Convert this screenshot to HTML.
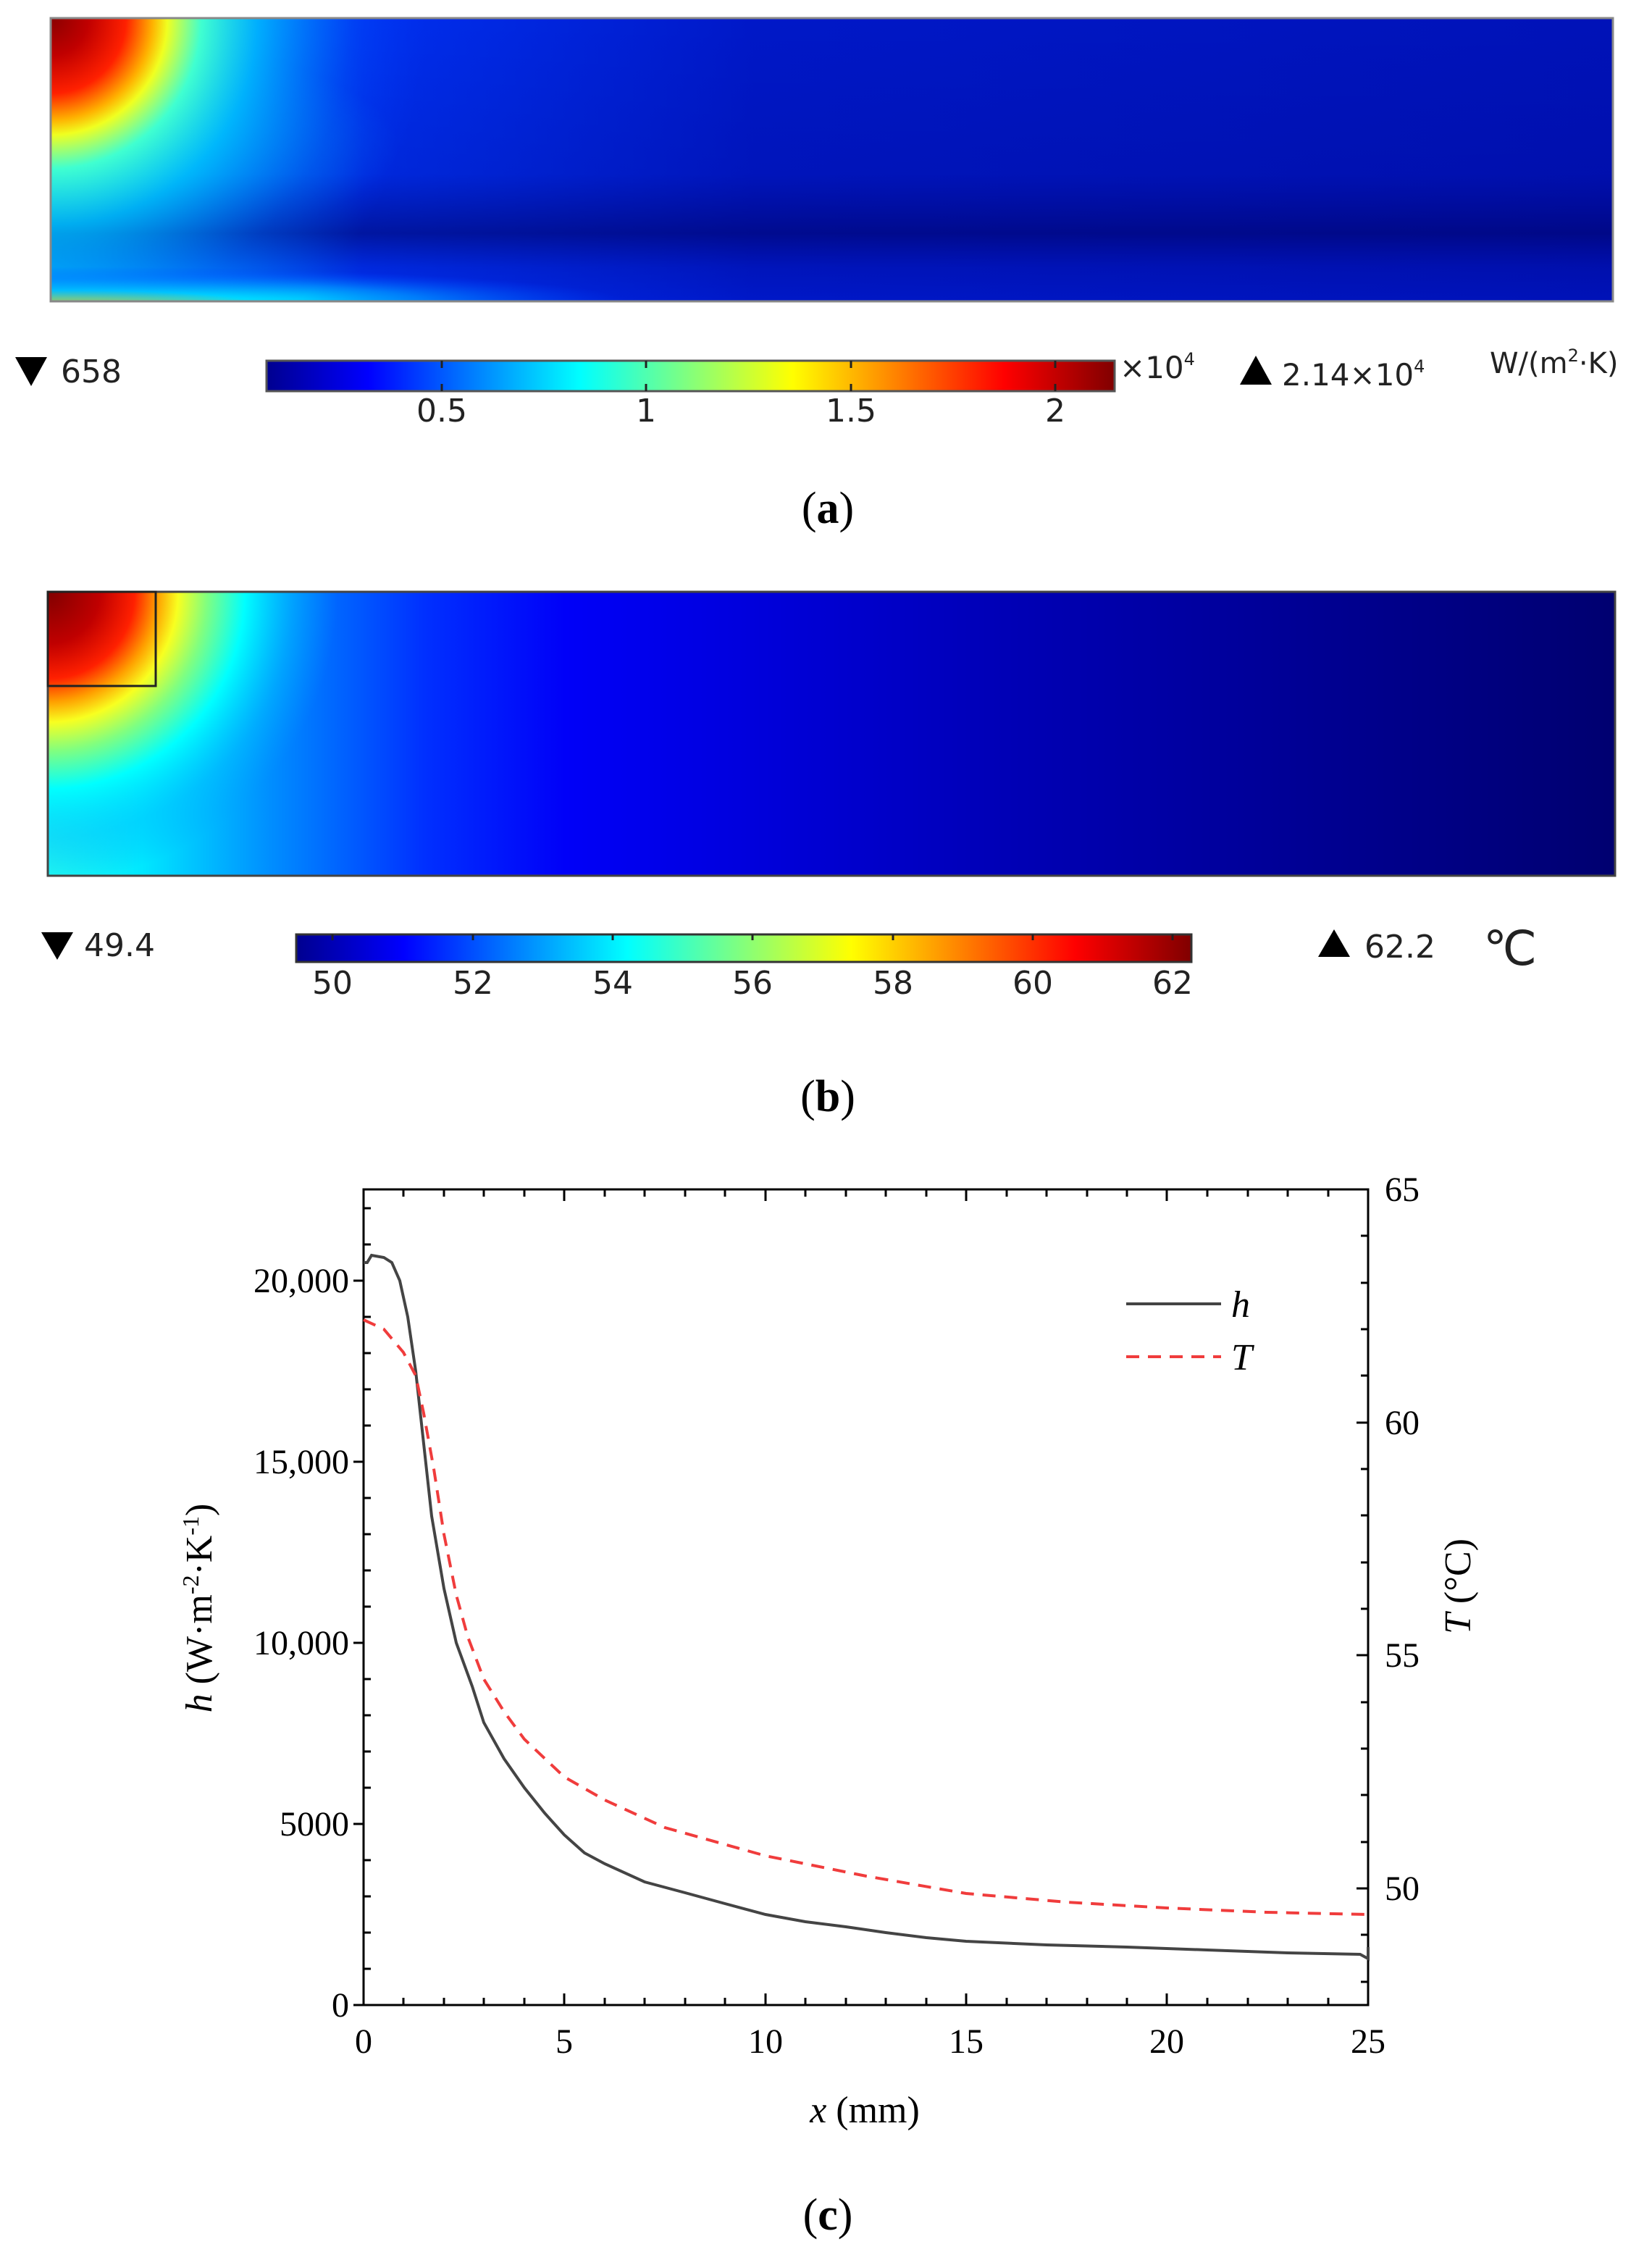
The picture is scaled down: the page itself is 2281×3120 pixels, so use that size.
<!DOCTYPE html>
<html><head><meta charset="utf-8"><style>
html,body{margin:0;padding:0;background:#fff;}
svg{display:block;}
.s{font-family:"DejaVu Sans","Liberation Sans",sans-serif;}
.t{font-family:"Liberation Serif",serif;}
</style></head><body>
<svg width="2281" height="3120" viewBox="0 0 2281 3120" xmlns="http://www.w3.org/2000/svg">
<defs>
<linearGradient id="jet" x1="0" x2="1" y1="0" y2="0">
<stop offset="0" stop-color="#00008f"/><stop offset="0.12" stop-color="#0000ff"/><stop offset="0.37" stop-color="#00ffff"/><stop offset="0.62" stop-color="#ffff00"/><stop offset="0.87" stop-color="#ff0000"/><stop offset="1" stop-color="#800000"/>
</linearGradient>
<linearGradient id="aBase" x1="70" x2="2227" y1="0" y2="0" gradientUnits="userSpaceOnUse">
<stop offset="0" stop-color="#00c8ff"/><stop offset="0.1" stop-color="#0080ff"/><stop offset="0.2" stop-color="#0030f0"/><stop offset="0.45" stop-color="#0018c8"/><stop offset="1" stop-color="#0012b8"/>
</linearGradient>
<linearGradient id="aBand" x1="0" x2="0" y1="25" y2="416" gradientUnits="userSpaceOnUse">
<stop offset="0" stop-color="#000070" stop-opacity="0"/><stop offset="0.55" stop-color="#000070" stop-opacity="0.15"/><stop offset="0.76" stop-color="#000060" stop-opacity="0.55"/><stop offset="0.88" stop-color="#000070" stop-opacity="0.15"/><stop offset="1" stop-color="#000070" stop-opacity="0"/>
</linearGradient>
<radialGradient id="aMid" cx="0" cy="0" r="1" gradientUnits="userSpaceOnUse" gradientTransform="translate(70 200) scale(480 150)">
<stop offset="0" stop-color="#00f0ff" stop-opacity="0.9"/><stop offset="0.5" stop-color="#00c0ff" stop-opacity="0.6"/><stop offset="1" stop-color="#0080ff" stop-opacity="0"/>
</radialGradient>
<radialGradient id="aHot" cx="70" cy="25" r="520" gradientUnits="userSpaceOnUse">
<stop offset="0" stop-color="#8a0000"/><stop offset="0.1" stop-color="#c00000"/><stop offset="0.2" stop-color="#ff2000"/><stop offset="0.27" stop-color="#ffb000"/><stop offset="0.31" stop-color="#f0ff20"/><stop offset="0.4" stop-color="#40ffd0"/><stop offset="0.55" stop-color="#00c0ff" stop-opacity="0.8"/><stop offset="0.8" stop-color="#0060ff" stop-opacity="0.3"/><stop offset="1" stop-color="#0040ff" stop-opacity="0"/>
</radialGradient>
<radialGradient id="aBot" cx="0" cy="0" r="1" gradientUnits="userSpaceOnUse" gradientTransform="translate(70 418) scale(800 50)">
<stop offset="0" stop-color="#ffff00"/><stop offset="0.15" stop-color="#a0ff60"/><stop offset="0.35" stop-color="#00f0ff"/><stop offset="0.65" stop-color="#0090ff" stop-opacity="0.8"/><stop offset="1" stop-color="#0040ff" stop-opacity="0"/>
</radialGradient>
<linearGradient id="bBase" x1="66" x2="2230" y1="0" y2="0" gradientUnits="userSpaceOnUse">
<stop offset="0" stop-color="#20f8f0"/><stop offset="0.06" stop-color="#00e8ff"/><stop offset="0.14" stop-color="#0090ff"/><stop offset="0.24" stop-color="#0030ff"/><stop offset="0.33" stop-color="#0000f8"/><stop offset="0.6" stop-color="#0000b8"/><stop offset="1" stop-color="#000070"/>
</linearGradient>
<radialGradient id="bHot" cx="66" cy="817" r="400" gradientUnits="userSpaceOnUse">
<stop offset="0" stop-color="#800000"/><stop offset="0.18" stop-color="#c00000"/><stop offset="0.3" stop-color="#ff2000"/><stop offset="0.38" stop-color="#ffa000"/><stop offset="0.45" stop-color="#f8ff20"/><stop offset="0.55" stop-color="#80ff80"/><stop offset="0.68" stop-color="#00ffff"/><stop offset="0.85" stop-color="#00c0ff" stop-opacity="0.5"/><stop offset="1" stop-color="#00a0ff" stop-opacity="0"/>
</radialGradient>
</defs>

<!-- Panel a -->
<rect x="70" y="25" width="2157" height="391" fill="url(#aBase)"/>
<rect x="70" y="25" width="2157" height="391" fill="url(#aMid)"/>
<rect x="70" y="25" width="2157" height="391" fill="url(#aBand)"/>
<rect x="70" y="25" width="2157" height="391" fill="url(#aBot)"/>
<rect x="70" y="25" width="2157" height="391" fill="url(#aHot)"/>
<rect x="70" y="25" width="2157" height="391" fill="none" stroke="#888" stroke-width="3"/>

<polygon points="21,493 65,493 43,533" fill="#000"/>
<text x="84" y="528" class="s" font-size="44" fill="#222">658</text>
<rect x="368" y="498" width="1171" height="42" fill="url(#jet)" stroke="#555" stroke-width="3"/>
<g stroke="#222" stroke-width="3"><line x1="610" y1="498" x2="610" y2="508"/><line x1="610" y1="530" x2="610" y2="540"/><line x1="892" y1="498" x2="892" y2="508"/><line x1="892" y1="530" x2="892" y2="540"/><line x1="1175" y1="498" x2="1175" y2="508"/><line x1="1175" y1="530" x2="1175" y2="540"/><line x1="1457" y1="498" x2="1457" y2="508"/><line x1="1457" y1="530" x2="1457" y2="540"/></g>
<g class="s" font-size="44" fill="#222" text-anchor="middle">
<text x="610" y="582">0.5</text><text x="892" y="582">1</text><text x="1175" y="582">1.5</text><text x="1457" y="582">2</text></g>
<text x="1546" y="522" class="s" font-size="42" fill="#222">×10<tspan font-size="24" dy="-18">4</tspan></text>
<polygon points="1712,531 1756,531 1734,491" fill="#000"/>
<text x="1770" y="532" class="s" font-size="42" fill="#222">2.14×10<tspan font-size="24" dy="-18">4</tspan></text>
<text x="2057" y="515" class="s" font-size="40" fill="#222">W/(m<tspan font-size="24" dy="-16">2</tspan><tspan dy="16">·K)</tspan></text>
<text x="1143" y="722" class="t" font-size="62" fill="#000" text-anchor="middle">(<tspan font-weight="bold">a</tspan>)</text>

<!-- Panel b -->
<rect x="66" y="817" width="2164" height="392" fill="url(#bBase)"/>
<rect x="66" y="817" width="2164" height="392" fill="url(#bHot)"/>
<rect x="66" y="817" width="2164" height="392" fill="none" stroke="#444" stroke-width="3"/>
<rect x="66" y="817" width="149" height="130" fill="none" stroke="#222" stroke-width="3"/>

<polygon points="57,1287 101,1287 79,1325" fill="#000"/>
<text x="116" y="1320" class="s" font-size="44" fill="#222">49.4</text>
<rect x="409" y="1290" width="1236" height="38" fill="url(#jet)" stroke="#333" stroke-width="3"/>
<g stroke="#222" stroke-width="3">
<line x1="459" y1="1290" x2="459" y2="1298"/><line x1="653" y1="1290" x2="653" y2="1298"/><line x1="846" y1="1290" x2="846" y2="1298"/><line x1="1039" y1="1290" x2="1039" y2="1298"/><line x1="1233" y1="1290" x2="1233" y2="1298"/><line x1="1426" y1="1290" x2="1426" y2="1298"/><line x1="1619" y1="1290" x2="1619" y2="1298"/></g>
<g class="s" font-size="44" fill="#222" text-anchor="middle">
<text x="459" y="1372">50</text><text x="653" y="1372">52</text><text x="846" y="1372">54</text><text x="1039" y="1372">56</text><text x="1233" y="1372">58</text><text x="1426" y="1372">60</text><text x="1619" y="1372">62</text></g>
<polygon points="1820,1321 1864,1321 1842,1283" fill="#000"/>
<text x="1884" y="1322" class="s" font-size="44" fill="#222">62.2</text>
<text x="2048" y="1332" class="t" font-size="66" fill="#222">℃</text>
<text x="1143" y="1534" class="t" font-size="62" fill="#000" text-anchor="middle">(<tspan font-weight="bold">b</tspan>)</text>

<!-- Panel c -->
<g stroke="#000" stroke-width="3" fill="none">
<rect x="502" y="1642" width="1387" height="1126"/>
<path d="M502 2768v-16M779 2768v-16M1057 2768v-16M1334 2768v-16M1611 2768v-16M1889 2768v-16
M502 1642v16M779 1642v16M1057 1642v16M1334 1642v16M1611 1642v16
M557 2768v-10M613 2768v-10M668 2768v-10M724 2768v-10M835 2768v-10M890 2768v-10M946 2768v-10M1001 2768v-10M1112 2768v-10M1168 2768v-10M1223 2768v-10M1279 2768v-10M1390 2768v-10M1445 2768v-10M1501 2768v-10M1556 2768v-10M1667 2768v-10M1723 2768v-10M1778 2768v-10M1834 2768v-10
M557 1642v10M613 1642v10M668 1642v10M724 1642v10M835 1642v10M890 1642v10M946 1642v10M1001 1642v10M1112 1642v10M1168 1642v10M1223 1642v10M1279 1642v10M1390 1642v10M1445 1642v10M1501 1642v10M1556 1642v10M1667 1642v10M1723 1642v10M1778 1642v10M1834 1642v10"/>
<path d="M502 2768h-14M502 2518h-14M502 2268h-14M502 2018h-14M502 1768h-14
M502 2718h10M502 2668h10M502 2618h10M502 2568h10M502 2468h10M502 2418h10M502 2368h10M502 2318h10M502 2218h10M502 2168h10M502 2118h10M502 2068h10M502 1968h10M502 1918h10M502 1868h10M502 1818h10M502 1718h10M502 1668h10"/>
<path d="M1889 1642h-16M1889 1964h-16M1889 2285h-16M1889 2607h-16
M1889 1706h-10M1889 1771h-10M1889 1835h-10M1889 1899h-10M1889 2028h-10M1889 2092h-10M1889 2157h-10M1889 2221h-10M1889 2350h-10M1889 2414h-10M1889 2478h-10M1889 2543h-10M1889 2671h-10M1889 2736h-10"/>
</g>
<g class="t" font-size="48" fill="#000" text-anchor="middle">
<text x="502" y="2834">0</text><text x="779" y="2834">5</text><text x="1057" y="2834">10</text><text x="1334" y="2834">15</text><text x="1611" y="2834">20</text><text x="1889" y="2834">25</text></g>
<g class="t" font-size="48" fill="#000" text-anchor="end">
<text x="482" y="2784">0</text><text x="482" y="2534">5000</text><text x="482" y="2284">10,000</text><text x="482" y="2034">15,000</text><text x="482" y="1784">20,000</text></g>
<g class="t" font-size="48" fill="#000">
<text x="1912" y="1658">65</text><text x="1912" y="1980">60</text><text x="1912" y="2301">55</text><text x="1912" y="2623">50</text></g>
<text x="1194" y="2930" class="t" font-size="52" fill="#000" text-anchor="middle"><tspan font-style="italic">x</tspan> (mm)</text>
<text transform="translate(292 2220) rotate(-90)" class="t" font-size="52" fill="#000" text-anchor="middle"><tspan font-style="italic">h</tspan> (W·m<tspan font-size="32" dy="-18">-2</tspan><tspan dy="18">·K</tspan><tspan font-size="32" dy="-18">-1</tspan><tspan dy="18">)</tspan></text>
<text transform="translate(2030 2190) rotate(-90)" class="t" font-size="52" fill="#000" text-anchor="middle"><tspan font-style="italic">T</tspan>  (°C)</text>

<polyline fill="none" stroke="#444" stroke-width="4" points="502,1743 507,1743 513,1733 530,1736 541,1743 552,1768 563,1818 574,1893 585,1993 596,2093 613,2193 630,2268 652,2328 668,2378 696,2428 724,2468 752,2503 779,2533 807,2558 835,2573 890,2598 946,2613 1001,2628 1057,2643 1112,2653 1168,2660 1223,2668 1279,2675 1334,2680 1445,2685 1556,2688 1667,2692 1778,2696 1878,2698 1889,2704 1889,2688"/>
<polyline fill="none" stroke="#f03c3c" stroke-width="4" stroke-dasharray="18,12" points="502,1822 530,1835 557,1867 574,1899 585,1951 599,2028 613,2118 630,2202 646,2260 668,2318 696,2363 724,2401 779,2453 835,2485 918,2523 1057,2562 1196,2590 1334,2614 1473,2626 1611,2634 1750,2640 1889,2643"/>

<line x1="1555" y1="1800" x2="1686" y2="1800" stroke="#444" stroke-width="4"/>
<line x1="1555" y1="1873" x2="1686" y2="1873" stroke="#f03c3c" stroke-width="4" stroke-dasharray="18,12"/>
<text x="1700" y="1818" class="t" font-size="52" font-style="italic" fill="#000">h</text>
<text x="1700" y="1891" class="t" font-size="52" font-style="italic" fill="#000">T</text>

<text x="1143" y="3078" class="t" font-size="62" fill="#000" text-anchor="middle">(<tspan font-weight="bold">c</tspan>)</text>
</svg>
</body></html>
